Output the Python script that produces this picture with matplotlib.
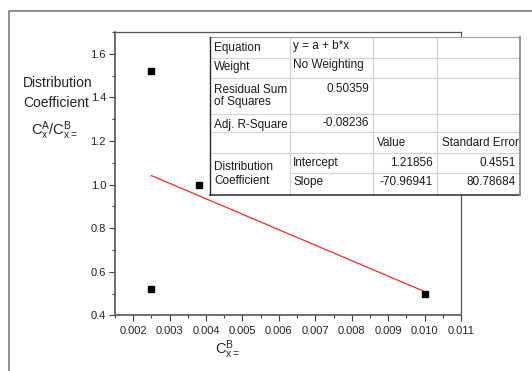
import matplotlib
matplotlib.use("Agg")
import matplotlib.pyplot as plt
from matplotlib.patches import Rectangle
from matplotlib.lines import Line2D
from matplotlib.ticker import FixedLocator, MultipleLocator, FormatStrFormatter

plt.rcParams['font.family'] = ['Liberation Sans', 'DejaVu Sans']
plt.rcParams['mathtext.fontset'] = 'custom'
plt.rcParams['mathtext.rm'] = 'Liberation Sans'
plt.rcParams['mathtext.it'] = 'Liberation Sans'
plt.rcParams['mathtext.bf'] = 'Liberation Sans:bold'

# ---- data ----
conc_b = [0.0025, 0.0025, 0.0038, 0.0100]
dist_coef = [1.52, 0.52, 1.00, 0.50]

intercept = 1.21856
slope = -70.96941
intercept_se = 0.4551
slope_se = 80.78684
rss = 0.50359
adj_r2 = -0.08236
fit_range = [0.0025, 0.0100]

x_ticks = [0.002, 0.003, 0.004, 0.005, 0.006, 0.007, 0.008, 0.009, 0.010, 0.011]
y_ticks = [0.4, 0.6, 0.8, 1.0, 1.2, 1.4, 1.6]

equation = "y = a + b*x"
weighting = "No Weighting"
param_names = ["Intercept", "Slope"]
col_heads = ["Value", "Standard Error"]

# ---- figure ----
W, H = 532, 371
DPI = 100
fig = plt.figure(figsize=(W / DPI, H / DPI), dpi=DPI)
fig.patch.set_facecolor('white')


def px(x0, y0, x1, y1):
    return [x0 / W, 1 - y1 / H, (x1 - x0) / W, (y1 - y0) / H]


ax = fig.add_axes(px(115, 32, 461, 315.3))
ax.set_xlim(0.0015, 0.011)
ax.set_ylim(0.4, 1.7)

ax.plot(conc_b, dist_coef, linestyle='none', marker='s', markersize=4.3,
        color='black', zorder=3)
fit_y = [intercept + slope * x for x in fit_range]
ax.plot(fit_range, fit_y, color='#ff2a2a', linewidth=0.9, zorder=2)

ax.xaxis.set_major_locator(FixedLocator(x_ticks))
ax.xaxis.set_minor_locator(MultipleLocator(0.0005))
ax.yaxis.set_major_locator(FixedLocator(y_ticks))
ax.yaxis.set_minor_locator(MultipleLocator(0.1))
ax.xaxis.set_major_formatter(FormatStrFormatter('%.3f'))
ax.yaxis.set_major_formatter(FormatStrFormatter('%.1f'))

ax.tick_params(which='major', direction='out', length=4, width=0.8,
               color='#404040', labelsize=8, labelcolor='#222222', pad=2.5)
ax.tick_params(which='minor', direction='out', length=2.2, width=0.8,
               color='#404040')
ax.tick_params(axis='x', which='major', pad=4)
for side in ('left', 'bottom'):
    ax.spines[side].set_linewidth(1.2)
    ax.spines[side].set_color('#555555')
for side in ('top', 'right'):
    ax.spines[side].set_linewidth(0.9)
    ax.spines[side].set_color('#555555')

# ---- overlay in pixel coordinates: labels, frame, fit table ----
ov = fig.add_axes([0, 0, 1, 1], zorder=5)
ov.set_xlim(0, W)
ov.set_ylim(H, 0)
ov.axis('off')
ov.patch.set_alpha(0)

# outer page frame
ov.add_line(Line2D([9, 9, W], [H, 11, 11], color='#707070', linewidth=1.1))

# axis titles
tc = '#222222'
ov.text(23, 83, "Distribution", fontsize=10, color=tc, ha='left', va='center')
ov.text(23, 103, "Coefficient", fontsize=10, color=tc, ha='left', va='center')
ov.text(31, 131, r"$\mathregular{C_x^A/C_{x=}^B}$", fontsize=10.5, color=tc,
        ha='left', va='center')
ov.text(215, 350, r"$\mathregular{C_{x=}^B}$", fontsize=10.5, color=tc,
        ha='left', va='center')

# table geometry
cols = [210, 290, 372.7, 436.7, 520]
rows = [37.3, 57.7, 77.7, 113.5, 131.7, 153.3, 173.3, 195]
tbl = Rectangle((cols[0], rows[0]), cols[-1] - cols[0], rows[-1] - rows[0],
                facecolor='white', edgecolor='none', zorder=1)
ov.add_patch(tbl)

grid = '#d2d2d2'
for x in cols[1:-1]:
    ov.add_line(Line2D([x, x], [rows[0], rows[-1]], color=grid, lw=0.8, zorder=2))
for y in rows[1:6]:
    ov.add_line(Line2D([cols[0], cols[-1]], [y, y], color=grid, lw=0.8, zorder=2))
ov.add_line(Line2D([cols[1], cols[-1]], [rows[6], rows[6]], color=grid, lw=0.8, zorder=2))
ov.add_line(Line2D([cols[0], cols[-1]], [rows[0], rows[0]], color='#a0a0a0', lw=0.8, zorder=3))
ov.add_line(Line2D([cols[0], cols[0]], [rows[0], rows[-1]], color='#2a2a2a', lw=1.0, zorder=3))
ov.add_line(Line2D([cols[0], cols[-1]], [rows[-1], rows[-1]], color='#2a2a2a', lw=1.1, zorder=3))
ov.add_line(Line2D([cols[-1], cols[-1]], [rows[0], rows[-1]], color='#8a8a8a', lw=1.3, zorder=3))

fs = 8.5
lx = cols[0] + 4
c2l = cols[1] + 3


def cell(x, y, s, ha='left'):
    t = ov.text(x, y, s, fontsize=fs, color='#1a1a1a', ha=ha, va='center', zorder=4)
    t.set_clip_path(tbl)
    return t


cell(lx, 47.5, "Equation")
cell(c2l, 45.5, equation)
cell(lx, 67.3, "Weight")
cell(c2l, 64.7, weighting)
cell(lx, 90, "Residual Sum")
cell(lx, 101.7, "of Squares")
cell(cols[2] - 3.5, 89.3, str(rss), ha='right')
cell(lx, 125, "Adj. R-Square")
cell(cols[2] - 3.5, 122.7, str(adj_r2), ha='right')
cell(cols[2] + 4, 142.5, col_heads[0])
cell(cols[3] + 5, 142.5, col_heads[1])
cell(lx, 166.7, "Distribution")
cell(lx, 180.7, "Coefficient")
cell(c2l, 162.7, param_names[0])
cell(c2l, 181.7, param_names[1])
cell(cols[3] - 4, 162.7, str(intercept), ha='right')
cell(cols[3] - 4, 181.7, str(slope), ha='right')
cell(cols[4] - 4, 162.7, str(intercept_se), ha='right')
cell(cols[4] - 4, 181.7, str(slope_se), ha='right')

fig.savefig("out.png", dpi=DPI, facecolor='white')
